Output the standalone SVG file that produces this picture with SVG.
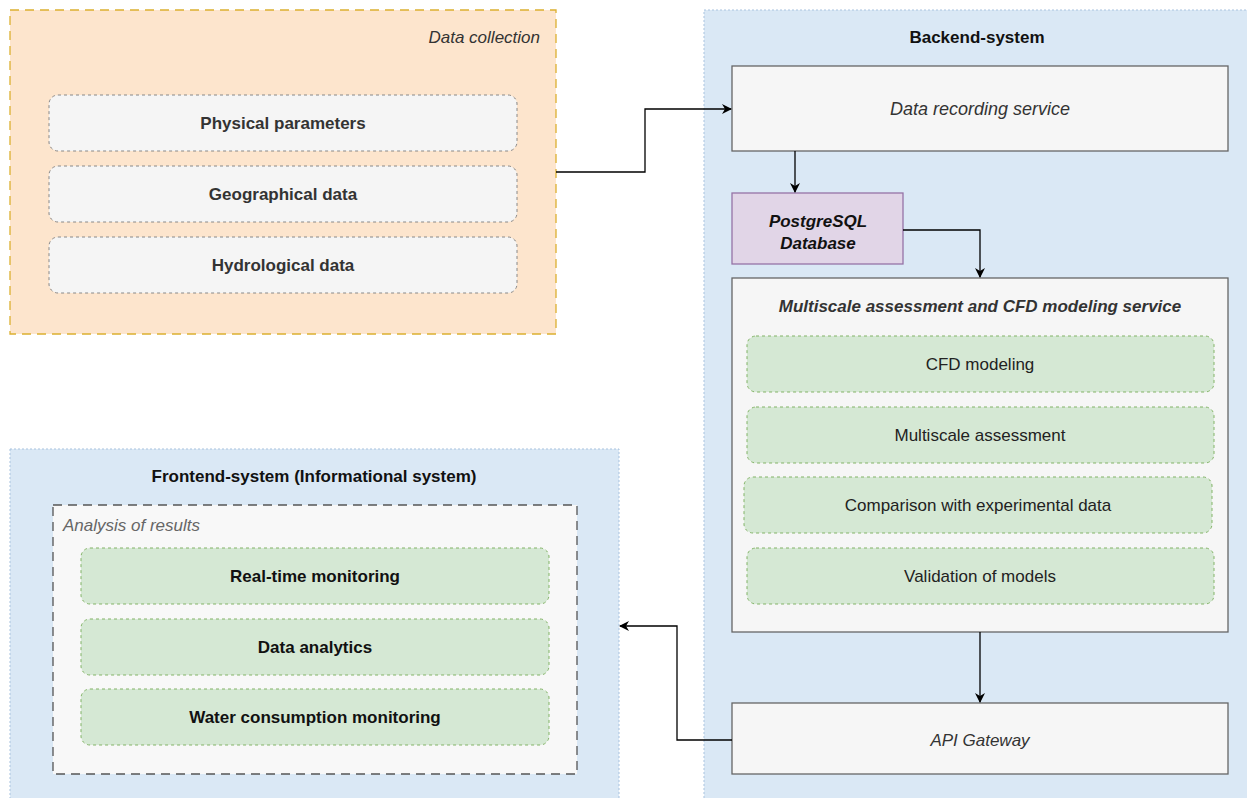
<svg xmlns="http://www.w3.org/2000/svg" width="1247" height="798" viewBox="0 0 1247 798">
<defs>
<marker id="arr" viewBox="0 0 10 10" refX="9" refY="5" markerWidth="10" markerHeight="10" markerUnits="userSpaceOnUse" orient="auto">
<path d="M0,0 L10,5 L0,10 L3,5 Z" fill="#000"/>
</marker>
<style>
text{font-family:"Liberation Sans",Arial,sans-serif;font-size:17px;fill:#333;}
.b{font-weight:bold;}
.i{font-style:italic;}
.c{text-anchor:middle;}
.title{font-weight:bold;fill:#111;}
.sys{fill:#dae8f5;stroke:#a9c3df;stroke-width:1;stroke-dasharray:2 2;}
.grey{fill:#f5f5f5;stroke:#888;stroke-width:1;stroke-dasharray:3 3;}
.green{fill:#d5e8d4;stroke:#82b366;stroke-width:1;stroke-dasharray:3 3;}
.svc{fill:#f6f6f6;stroke:#666;stroke-width:1.3;}
.conn{fill:none;stroke:#000;stroke-width:1.3;}
</style>
</defs>
<rect width="1247" height="798" fill="#fff"/>

<g id="data-collection">
<rect x="10" y="10" width="546" height="324" fill="#fde5cd" stroke="#dcb030" stroke-width="1.3" stroke-dasharray="9 6"/>
<text x="540" y="43" class="i" text-anchor="end">Data collection</text>
</g>
<g id="physical-parameters">
<rect x="49" y="95" width="468" height="56" rx="9" class="grey"/>
<text x="283" y="129" class="b c">Physical parameters</text>
</g>
<g id="geographical-data">
<rect x="49" y="166" width="468" height="56" rx="9" class="grey"/>
<text x="283" y="200" class="b c">Geographical data</text>
</g>
<g id="hydrological-data">
<rect x="49" y="237" width="468" height="56" rx="9" class="grey"/>
<text x="283" y="271" class="b c">Hydrological data</text>
</g>

<g id="backend-system">
<rect x="704" y="10" width="560" height="800" class="sys"/>
<text x="977" y="43" class="title c">Backend-system</text>
</g>
<g id="data-recording-service">
<rect x="732" y="66" width="496" height="85" class="svc"/>
<text x="980" y="115" class="i c" style="font-size:18px">Data recording service</text>
</g>
<g id="postgresql-database">
<rect x="732" y="193" width="171" height="71" fill="#e1d5e7" stroke="#9673a6" stroke-width="1.3"/>
<text x="818" y="227" class="b i c" style="fill:#111">PostgreSQL</text>
<text x="818" y="249" class="b i c" style="fill:#111">Database</text>
</g>
<g id="multiscale-service">
<rect x="732" y="278" width="496" height="354" class="svc"/>
<text x="980" y="312" class="b i c">Multiscale assessment and CFD modeling service</text>
</g>
<g id="cfd-modeling">
<rect x="747" y="336" width="467" height="56" rx="9" class="green"/>
<text x="980" y="370" class="c" style="fill:#222">CFD modeling</text>
</g>
<g id="multiscale-assessment">
<rect x="747" y="407" width="467" height="56" rx="9" class="green"/>
<text x="980" y="441" class="c" style="fill:#222">Multiscale assessment</text>
</g>
<g id="comparison">
<rect x="744" y="477" width="468" height="56" rx="9" class="green"/>
<text x="978" y="511" class="c" style="fill:#222">Comparison with experimental data</text>
</g>
<g id="validation">
<rect x="747" y="548" width="467" height="56" rx="9" class="green"/>
<text x="980" y="582" class="c" style="fill:#222">Validation of models</text>
</g>
<g id="api-gateway">
<rect x="732" y="703" width="496" height="71" class="svc"/>
<text x="980" y="746" class="i c">API Gateway</text>
</g>

<g id="frontend-system">
<rect x="10" y="449" width="609" height="360" class="sys"/>
<text x="314" y="482" class="title c">Frontend-system (Informational system)</text>
</g>
<g id="analysis-of-results">
<rect x="53" y="505" width="524" height="269" fill="#f8f8f8" stroke="#555" stroke-width="1.3" stroke-dasharray="9 6"/>
<text x="63" y="531" class="i" style="fill:#666">Analysis of results</text>
</g>
<g id="real-time-monitoring">
<rect x="81" y="548" width="468" height="56" rx="9" class="green"/>
<text x="315" y="582" class="b c" style="fill:#111">Real-time monitoring</text>
</g>
<g id="data-analytics">
<rect x="81" y="619" width="468" height="56" rx="9" class="green"/>
<text x="315" y="653" class="b c" style="fill:#111">Data analytics</text>
</g>
<g id="water-consumption-monitoring">
<rect x="81" y="689" width="468" height="56" rx="9" class="green"/>
<text x="315" y="723" class="b c" style="fill:#111">Water consumption monitoring</text>
</g>

<g id="connectors">
<path d="M556,172 H645 V109 H731" class="conn" marker-end="url(#arr)"/>
<path d="M795,151 V192" class="conn" marker-end="url(#arr)"/>
<path d="M903,230 H980 V277" class="conn" marker-end="url(#arr)"/>
<path d="M980,632 V702" class="conn" marker-end="url(#arr)"/>
<path d="M732,740 H677 V626 H620" class="conn" marker-end="url(#arr)"/>
</g>
</svg>
